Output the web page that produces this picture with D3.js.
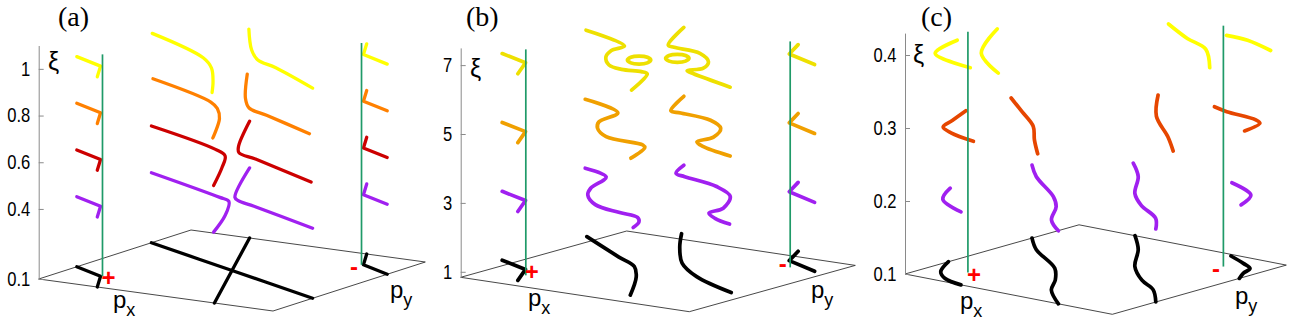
<!DOCTYPE html>
<html>
<head>
<meta charset="utf-8">
<script src="https://cdn.jsdelivr.net/npm/d3@7"></script>
<style>
  html, body { margin: 0; padding: 0; background: #fff; }
  svg { display: block; }
</style>
</head>
<body>
<svg id="chart" width="1292" height="324"></svg>
<script>
// ------------------------------------------------------------------
// DATA  (px, py in normalised plane units [0,1]; ξ in axis units)
// ------------------------------------------------------------------
const panelLabels = ["(a)", "(b)", "(c)"];
const diracPts = [[0.165, 0.165], [0.835, 0.835]];
const diracSigns = ["+", "-"];

// ---- panel (a)
const xiTicksA = [0.1, 0.4, 0.6, 0.8, 1];
const xiTickLabelsA = ["0.1", "0.4", "0.6", "0.8", "1"];
const levelsA = [0.1, 0.4, 0.6, 0.8, 1.0];
const cornersA = [
  [[0, 0.25], [0.16, 0.16], [0.25, 0]],
  [[0.75, 1], [0.84, 0.84], [1, 0.75]]
];
const branchesA = [
  [[[0, 0.74], [0.5, 0.5], [1, 0.26]],
   [[0.25, 1], [0.5, 0.5], [0.75, 0]]],
  [[[0, 0.74], [0.435, 0.52], [0.5, 0.48], [0.62, 0.27], [0.74, 0.01]],
   [[0.25, 1], [0.48, 0.55], [0.52, 0.51], [0.62, 0.46], [1, 0.26]]],
  [[[0, 0.74], [0.41, 0.53], [0.5, 0.455], [0.6, 0.28], [0.74, 0.01]],
   [[0.25, 1], [0.45, 0.62], [0.51, 0.53], [0.62, 0.47], [1, 0.25]]],
  [[[0, 0.75], [0.39, 0.53], [0.47, 0.45], [0.57, 0.31], [0.73, 0.02]],
   [[0.24, 1], [0.46, 0.65], [0.56, 0.52], [0.68, 0.45], [0.98, 0.27]]],
  [[[0.01, 0.73], [0.39, 0.48], [0.51, 0.35], [0.64, 0.16], [0.74, 0]],
   [[0.26, 0.98], [0.46, 0.69], [0.57, 0.56], [0.7, 0.48], [1, 0.26]]]
];

// ---- panel (b)
const xiTicksB = [1, 3, 5, 7];
const xiTickLabelsB = ["1", "3", "5", "7"];
const levelsB = [1, 3, 5, 7];
const cornersB = [
  [[0, 0.25], [0.16, 0.17], [0.25, 0]],
  [[0.75, 1], [0.82, 0.85], [1, 0.755]]
];
const branchesB = [
  [[[0, 0.76], [0.3, 0.54], [0.44, 0.44], [0.55, 0.3], [0.72, 0.03]],
   [[0.24, 1], [0.37, 0.81], [0.54, 0.59], [0.72, 0.43], [0.98, 0.28]]],
  [[[0, 0.75], [0.15, 0.67], [0.22, 0.48], [0.28, 0.38], [0.4, 0.26], [0.55, 0.2], [0.65, 0.17], [0.7, 0.11], [0.74, 0.02]],
   [[0.25, 1], [0.31, 0.87], [0.37, 0.84], [0.56, 0.77], [0.7, 0.66], [0.8, 0.48], [0.81, 0.38], [0.88, 0.32], [0.98, 0.27]]],
  [[[0, 0.75], [0.23, 0.63], [0.27, 0.46], [0.33, 0.37], [0.44, 0.27], [0.63, 0.23], [0.66, 0.2], [0.73, 0.02]],
   [[0.25, 1], [0.36, 0.77], [0.41, 0.76], [0.57, 0.72], [0.68, 0.63], [0.75, 0.49], [0.75, 0.39], [0.81, 0.34], [0.99, 0.26]]],
  [[[0, 0.755], [0.27, 0.615], [0.28, 0.52], [0.33, 0.42], [0.42, 0.315], [0.5, 0.28], [0.58, 0.29], [0.62, 0.27], [0.74, 0.01]],
   [[0.25, 1], [0.385, 0.72], [0.425, 0.7], [0.56, 0.67], [0.67, 0.57], [0.72, 0.47], [0.7, 0.4], [0.75, 0.37], [0.99, 0.26]]]
];
const loopsB7 = [
  [[0.488, 0.473], [0.507, 0.426], [0.496, 0.392], [0.46, 0.391], [0.422, 0.423], [0.403, 0.47], [0.414, 0.504], [0.45, 0.505]],
  [[0.579, 0.578], [0.598, 0.531], [0.587, 0.497], [0.551, 0.496], [0.513, 0.528], [0.494, 0.575], [0.505, 0.609], [0.541, 0.61]]
];

// ---- panel (c)
const xiTicksC = [0.1, 0.2, 0.3, 0.4];
const xiTickLabelsC = ["0.1", "0.2", "0.3", "0.4"];
const levelsC = [0.1, 0.2, 0.3, 0.4];
const curvesC = [
  [[[0, 0.25], [0.08, 0.11], [0.16, 0.04], [0.27, 0]],
   [[0, 0.73], [0.13, 0.6], [0.37, 0.42], [0.49, 0.28], [0.58, 0.15], [0.74, 0]],
   [[0.27, 1], [0.42, 0.84], [0.58, 0.63], [0.74, 0.48], [0.87, 0.39], [1, 0.25]],
   [[0.75, 0.98], [0.86, 0.92], [0.93, 0.875], [0.96, 0.8], [1, 0.73]]],
  [[[0, 0.26], [0.09, 0.11], [0.27, 0]],
   [[0, 0.73], [0.13, 0.6], [0.38, 0.4], [0.49, 0.285], [0.61, 0.115], [0.74, 0]],
   [[0.27, 0.99], [0.42, 0.84], [0.58, 0.63], [0.72, 0.5], [0.89, 0.38], [1, 0.25]],
   [[0.75, 0.985], [0.93, 0.88], [1, 0.74]]],
  [[[0, 0.35], [0.06, 0.2], [0.1, 0.1], [0.18, 0.05], [0.33, 0]],
   [[0, 0.61], [0.17, 0.47], [0.35, 0.32], [0.49, 0.16], [0.64, 0]],
   [[0.39, 0.99], [0.6, 0.73], [0.84, 0.51], [1, 0.35]],
   [[0.67, 0.98], [0.755, 0.95], [0.92, 0.92], [0.965, 0.89], [1, 0.76]]],
  [[[0, 0.3], [0.07, 0.09], [0.315, 0]],
   [[0, 0.53], [0.2, 0.2], [0.45, 0]],
   [[0.44, 0.99], [0.64, 0.86], [0.8, 0.775], [1, 0.56]],
   [[0.72, 0.99], [0.83, 0.98], [1, 0.91]]]
];

// ------------------------------------------------------------------
// LAYOUT / STYLE
// ------------------------------------------------------------------
const sans = "'Liberation Sans', Arial, Helvetica, sans-serif";
const serif = "'Liberation Serif', 'Times New Roman', serif";
const colorsA = ["#000000", "#a020f0", "#cc0000", "#ff8000", "#ffff00"];
const colorsB = ["#000000", "#a020f0", "#f0a000", "#eee000"];
const colorsC = ["#000000", "#a020f0", "#e64600", "#ffff00"];

const panels = [
  { label: panelLabels[0], L: [38.7, 279], F: [273, 311], B: [191, 230],
    xiDomain: [0.1, 1.1], xiRange: [279, 45.5], ticks: xiTicksA, tickLabels: xiTickLabelsA,
    levels: levelsA, colors: colorsA, branches: branchesA, corners: cornersA, loops: [],
    loopLevel: null, greenTop: 1.05, width: 3.3, labelPos: [58, 26], xiPos: [48, 70],
    pxPos: [113, 308], pyPos: [390, 298] },
  { label: panelLabels[1], L: [460.7, 277.3], F: [689.3, 311.7], B: [626.7, 231],
    xiDomain: [0.84, 7.5], xiRange: [277.3, 47.9], ticks: xiTicksB, tickLabels: xiTickLabelsB,
    levels: levelsB, colors: colorsB, branches: branchesB, corners: cornersB, loops: loopsB7,
    loopLevel: 3, greenTop: 7.4, width: 3.7, labelPos: [466, 26], xiPos: [470, 77],
    pxPos: [528, 306], pyPos: [811, 298] },
  { label: panelLabels[2], L: [905, 274], F: [1112.3, 314.3], B: [1079, 224.8],
    xiDomain: [0.1, 0.43], xiRange: [274, 33.1], ticks: xiTicksC, tickLabels: xiTickLabelsC,
    levels: levelsC, colors: colorsC, branches: curvesC, corners: [], loops: [],
    loopLevel: null, greenTop: 0.43, width: 3.7, labelPos: [921, 26], xiPos: [913, 63],
    pxPos: [960, 309], pyPos: [1235, 304] }
];

const svg = d3.select("#chart");
const smooth = d3.line().curve(d3.curveCatmullRom.alpha(0.5));
const straight = d3.line();
const closedSmooth = d3.line().curve(d3.curveCatmullRomClosed.alpha(0.5));

panels.forEach(P => {
  const g = svg.append("g");
  const xi = d3.scaleLinear().domain(P.xiDomain).range(P.xiRange);
  const ax = d3.scaleLinear().domain([0, 1]).range([0, P.F[0] - P.L[0]]);
  const ay = d3.scaleLinear().domain([0, 1]).range([0, P.F[1] - P.L[1]]);
  const bx = d3.scaleLinear().domain([0, 1]).range([0, P.B[0] - P.L[0]]);
  const by = d3.scaleLinear().domain([0, 1]).range([0, P.B[1] - P.L[1]]);
  const proj = (p, q, z) => [P.L[0] + ax(p) + bx(q), xi(z) + ay(p) + by(q)];
  const z0 = P.xiDomain[0];

  // base plane
  g.append("path")
    .attr("d", straight([[0, 0], [1, 0], [1, 1], [0, 1]].map(c => proj(c[0], c[1], z0))) + "Z")
    .attr("fill", "none").attr("stroke", "#333").attr("stroke-width", 0.9);

  // ξ axis
  const axis = d3.axisLeft(xi).tickValues(P.ticks)
    .tickFormat((d, i) => P.tickLabels[i])
    .tickSizeInner(-5).tickSizeOuter(0).tickPadding(10);
  const ag = g.append("g").attr("transform", `translate(${P.L[0]},0)`).call(axis)
    .attr("font-family", sans).attr("font-size", 19.5);
  ag.select(".domain").attr("stroke", "#8a8a8a");
  ag.selectAll(".tick line").attr("stroke", "#8a8a8a");
  ag.selectAll(".tick text").attr("fill", "#000").attr("transform", "scale(0.85,1)");

  // curves by level
  P.levels.forEach((z, i) => {
    const col = P.colors[i];
    (P.branches[i] || []).forEach(pts => {
      g.append("path").attr("d", smooth(pts.map(d => proj(d[0], d[1], z))))
        .attr("fill", "none").attr("stroke", col).attr("stroke-width", P.width)
        .attr("stroke-linecap", "round").attr("stroke-linejoin", "round");
    });
    P.corners.forEach(pts => {
      g.append("path").attr("d", straight(pts.map(d => proj(d[0], d[1], z))))
        .attr("fill", "none").attr("stroke", col).attr("stroke-width", P.width)
        .attr("stroke-linecap", "round").attr("stroke-linejoin", "round");
    });
    if (P.loopLevel === i) {
      P.loops.forEach(pts => {
        g.append("path").attr("d", closedSmooth(pts.map(d => proj(d[0], d[1], z))))
          .attr("fill", "none").attr("stroke", col).attr("stroke-width", P.width);
      });
    }
  });

  // vertical lines at the Dirac points and signs
  diracPts.forEach((d, k) => {
    const b = proj(d[0], d[1], z0), t = proj(d[0], d[1], P.greenTop);
    g.append("line").attr("x1", b[0]).attr("y1", b[1]).attr("x2", t[0]).attr("y2", t[1])
      .attr("stroke", "#1f9a68").attr("stroke-width", 1.7);
    const s = proj(d[0], d[1], P.levels[0]);
    const plus = diracSigns[k] === "+";
    g.append("text").text(diracSigns[k])
      .attr("x", s[0] + (plus ? 6 : -7.5))
      .attr("y", s[1] + 2.5 + (plus ? 7.8 : 7.5))
      .attr("text-anchor", "middle").attr("fill", "#ff0000")
      .attr("font-family", sans).attr("font-size", 24)
      .attr("font-weight", "bold");
  });

  // labels
  g.append("text").text(P.label).attr("x", P.labelPos[0]).attr("y", P.labelPos[1])
    .attr("font-family", serif).attr("font-size", 28).attr("fill", "#000");
  g.append("text").text("ξ").attr("x", P.xiPos[0]).attr("y", P.xiPos[1])
    .attr("font-family", sans).attr("font-size", 25).attr("fill", "#000");
  [["x", P.pxPos], ["y", P.pyPos]].forEach(([sub, pos]) => {
    const t = g.append("text").attr("x", pos[0]).attr("y", pos[1])
      .attr("font-family", sans).attr("font-size", 24).attr("fill", "#000");
    t.append("tspan").text("p");
    t.append("tspan").text(sub).attr("font-size", 18).attr("dy", 8);
  });
});
</script>
</body>
</html>
